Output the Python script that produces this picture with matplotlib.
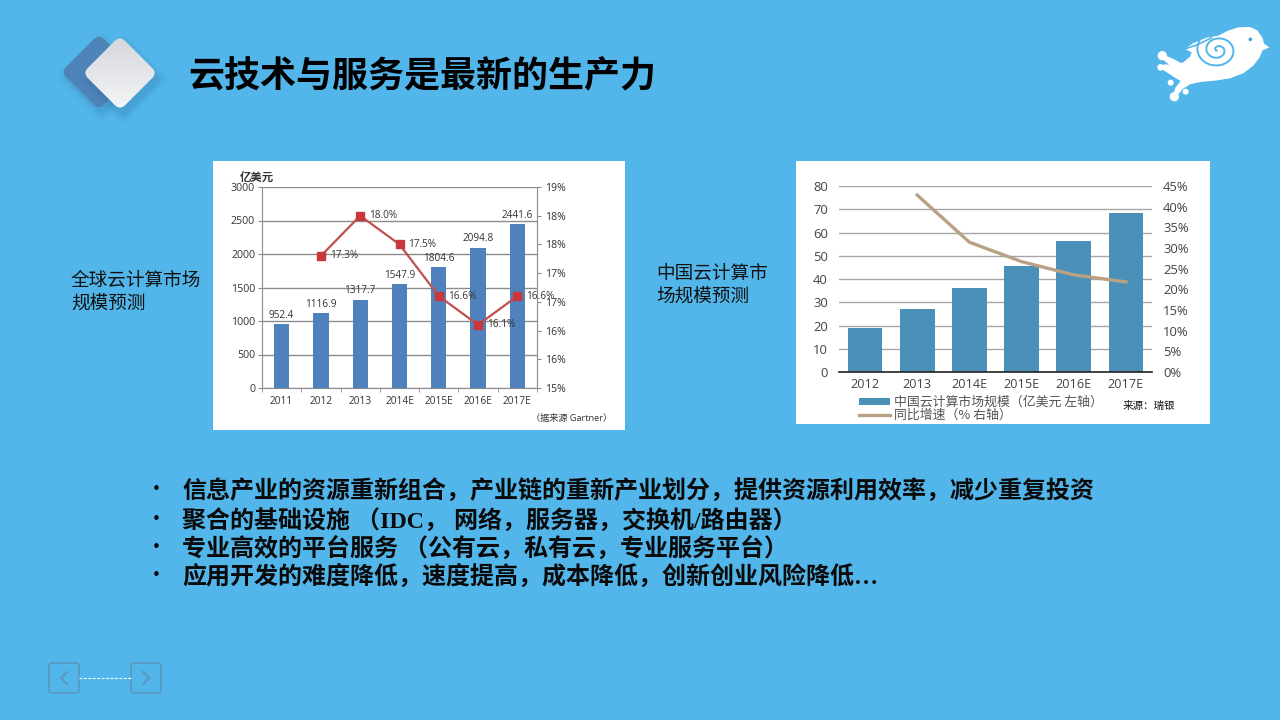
import numpy as np
import matplotlib
matplotlib.use('Agg')
import matplotlib.pyplot as plt
from matplotlib.patches import FancyBboxPatch, Polygon, Circle, Rectangle
from matplotlib.lines import Line2D
from matplotlib.transforms import Affine2D

plt.rcParams['font.family'] = ['Noto Sans CJK SC', 'DejaVu Sans']
CHART_FONT = ['Open Sans', 'Noto Sans CJK SC']
BODY_FONT = ['Liberation Serif', 'Noto Sans CJK SC']

# ---------- data ----------
title = '云技术与服务是最新的生产力'
bullets = ['信息产业的资源重新组合，产业链的重新产业划分，提供资源利用效率，减少重复投资',
           '聚合的基础设施 （IDC， 网络，服务器，交换机/路由器）',
           '专业高效的平台服务 （公有云，私有云，专业服务平台）',
           '应用开发的难度降低，速度提高，成本降低，创新创业风险降低…']
global_years = ['2011', '2012', '2013', '2014E', '2015E', '2016E', '2017E']
global_size = [952.4, 1116.9, 1317.7, 1547.9, 1804.6, 2094.8, 2441.6]
global_growth = [None, 17.3, 18.0, 17.5, 16.6, 16.1, 16.6]
global_left_ticks = [0, 500, 1000, 1500, 2000, 2500, 3000]
global_right_ticks = [15, 15.5, 16, 16.5, 17, 17.5, 18, 18.5]
global_right_labels = ['15%', '16%', '16%', '17%', '17%', '18%', '18%', '19%']
china_years = ['2012', '2013', '2014E', '2015E', '2016E', '2017E']
china_size = [19, 27.3, 36, 45.5, 56.3, 68.5]
china_growth = [None, 42.8, 31.4, 26.7, 23.5, 21.8]
china_left_ticks = [0, 10, 20, 30, 40, 50, 60, 70, 80]
china_right_ticks = [0, 5, 10, 15, 20, 25, 30, 35, 40, 45]

W, H = 1280, 720
BG = '#52B6EA'
fig = plt.figure(figsize=(12.8, 7.2), dpi=100, facecolor=BG)

bgax = fig.add_axes([0, 0, 1, 1], zorder=0)
bgax.set_xlim(0, W); bgax.set_ylim(H, 0); bgax.axis('off')

def axes_px(x0, y0, x1, y1, **kw):
    return fig.add_axes([x0 / W, 1 - y1 / H, (x1 - x0) / W, (y1 - y0) / H], **kw)

def diamond(cx, cy, half, color, z, alpha=1.0, rad=7):
    s = half * np.sqrt(2)
    p = FancyBboxPatch((-s / 2 + rad, -s / 2 + rad), s - 2 * rad, s - 2 * rad,
                       boxstyle=f'round,pad={rad},rounding_size={rad}', fc=color, ec='none',
                       alpha=alpha, zorder=z)
    p.set_transform(Affine2D().rotate_deg(45).translate(cx, cy) + bgax.transData)
    bgax.add_patch(p)
    return p

# header icon
for d, a in [(9, .04), (6, .05), (3, .07), (1, .08)]:
    diamond(102, 77, 38 + d, '#2F6F9F', 1, a)
diamond(99, 72, 38, '#4F84B8', 2)
for d, a in [(9, .05), (6, .06), (3, .08), (1, .10)]:
    diamond(123, 79, 38 + d, '#2F6F9F', 3, a)
clip = diamond(120, 73, 37, '#E2E4E8', 4)
grad = np.linspace(0, 1, 80)[:, None]
cmap = matplotlib.colors.LinearSegmentedColormap.from_list('g', ['#D3D5DA', '#F6F7F8'])
im = bgax.imshow(grad, extent=(80, 160, 112, 34), cmap=cmap, zorder=5, aspect='auto')
im.set_clip_path(clip)
bgax.set_xlim(0, W); bgax.set_ylim(H, 0)

# title and side labels
bgax.text(188.5, 87, title, fontsize=25.9, fontweight='bold', color='black', va='baseline', ha='left')
for t, x, y in [('全球云计算市场', 71, 286), ('规模预测', 71, 309), ('中国云计算市', 656, 279), ('场规模预测', 656, 302)]:
    bgax.text(x, y, t, fontsize=13.4, color='#111111', va='baseline', ha='left')

# bird logo (points taken in a 3x crop whose origin is 1140,15)
def bp(pts):
    return [(1140 + x / 3, 15 + y / 3) for x, y in pts]
body = [(388, 97), (368, 106), (358, 128), (340, 152), (310, 175), (270, 190), (225, 197), (180, 201),
        (150, 208), (128, 222), (113, 240), (100, 240), (106, 218), (122, 198), (105, 188), (85, 175),
        (62, 160), (72, 148), (100, 150), (130, 142), (150, 125), (155, 112), (135, 102),
        (160, 84), (200, 68), (235, 62), (262, 48), (295, 37), (330, 36), (352, 46), (368, 70), (372, 86)]
bgax.add_patch(Polygon(bp(body), closed=True, fc='white', ec='none', zorder=3))
tail = [(67, 118), (92, 128), (125, 145), (130, 158), (90, 152), (65, 130)]
bgax.add_patch(Polygon(bp(tail), closed=True, fc='white', ec='none', zorder=3))
for x, y, r in [(67, 122, 14), (62, 157, 10), (92, 203, 9), (137, 230, 9), (103, 245, 14)]:
    bgax.add_patch(Circle((1140 + x / 3, 15 + y / 3), r / 3, fc='white', ec='none', zorder=3))
theta = np.linspace(0, 4.4 * np.pi, 120)
rad_s = np.linspace(3, 60, 120)
sx = 233 + rad_s * np.cos(theta + 2.4) * 1.05
sy = 105 + rad_s * np.sin(theta + 2.4) * 0.9
bgax.plot(*zip(*bp(list(zip(sx, sy)))), color=BG, lw=1.4, zorder=4)
bgax.plot(*zip(*bp([(135, 102), (175, 88), (215, 68)])), color=BG, lw=1.2, zorder=4)
bgax.add_patch(Circle((1140 + 331 / 3, 15 + 73 / 3), 1.8, fc='#3FA0D0', ec='none', zorder=4))

# chart backgrounds
bgax.add_patch(Rectangle((213, 161), 412, 269, fc='white', ec='none', zorder=1))
bgax.add_patch(Rectangle((796, 161), 414, 263, fc='white', ec='none', zorder=1))

def set_font(ax):
    for t in ax.get_xticklabels() + ax.get_yticklabels():
        t.set_fontfamily(CHART_FONT)

# ---------- global chart ----------
ax1 = axes_px(262, 187, 537, 388, zorder=2, facecolor='none')
x1 = np.arange(len(global_years))
ax1.bar(x1, global_size, width=0.39, color='#4F81BD', zorder=3)
ax1.set_xlim(-0.5, 6.5); ax1.set_ylim(0, 3000)
ax1.set_yticks(global_left_ticks)
ax1.set_xticks(x1, global_years)
ax1.set_xticks(np.arange(-0.5, 7, 1), minor=True)
ax1.grid(axis='y', color='#8C8C8C', lw=1, zorder=1)
ax1.tick_params(axis='x', which='major', length=0, labelsize=7.3, labelcolor='#333333', pad=6)
ax1.tick_params(axis='x', which='minor', length=3, color='#8C8C8C')
ax1.tick_params(axis='y', length=3, color='#8C8C8C', labelsize=7.7, labelcolor='#333333', pad=2)
set_font(ax1)
for s in ['top', 'right']:
    ax1.spines[s].set_visible(False)
for s in ['left', 'bottom']:
    ax1.spines[s].set_color('#8C8C8C')
for xi, v in zip(x1, global_size):
    ax1.annotate(f'{v:.1f}', (xi, v), xytext=(0, 2.5), textcoords='offset points', ha='center', va='bottom',
                 fontsize=7.2, color='#333333', zorder=6, family=CHART_FONT)
ax1r = ax1.twinx()
ax1r.set_zorder(3); ax1r.patch.set_visible(False)
ax1r.set_ylim(15, 18.5)
ax1r.set_yticks(global_right_ticks, global_right_labels)
ax1r.tick_params(axis='y', length=3, color='#8C8C8C', labelsize=7.6, labelcolor='#333333', pad=3)
set_font(ax1r)
for s in ['top', 'left', 'bottom']:
    ax1r.spines[s].set_visible(False)
ax1r.spines['right'].set_color('#8C8C8C')
gx = [x for x, v in zip(x1, global_growth) if v is not None]
gy = [v for v in global_growth if v is not None]
ax1r.plot(gx, gy, color='#C0504D', lw=1.6, marker='s', ms=5.5, mfc='#C8383A', mec='#C8383A', clip_on=False)
for xi, v in zip(gx, gy):
    ax1r.annotate(f'{v:.1f}%', (xi, v), xytext=(6.5, 0), textcoords='offset points', ha='left', va='center',
                  fontsize=7.2, color='#333333', annotation_clip=False, family=CHART_FONT)
bgax.text(257, 178, '亿美元', fontsize=8.2, fontweight='bold', color='#333333', ha='center', va='center')
bgax.text(612, 419, '（据来源 Gartner）', fontsize=6.6, color='#333333', ha='right', va='center', family=CHART_FONT)

# ---------- china chart ----------
ax2 = axes_px(839, 186, 1152, 372, zorder=2, facecolor='none')
x2 = np.arange(len(china_years))
ax2.bar(x2, china_size, width=0.665, color='#4A90B8', zorder=3)
ax2.set_xlim(-0.5, 5.5); ax2.set_ylim(0, 80)
ax2.set_yticks(china_left_ticks)
ax2.set_xticks(x2, china_years)
ax2.grid(axis='y', color='#A6A6A6', lw=1, zorder=1)
ax2.tick_params(axis='x', length=0, labelsize=9.1, labelcolor='#444444', pad=4)
ax2.tick_params(axis='y', length=0, labelsize=9.4, labelcolor='#444444', pad=8)
set_font(ax2)
for s in ['top', 'right', 'left']:
    ax2.spines[s].set_visible(False)
ax2.spines['bottom'].set_color('#222222'); ax2.spines['bottom'].set_linewidth(1.2)
ax2.spines['bottom'].set_zorder(5)
ax2r = ax2.twinx()
ax2r.set_zorder(3); ax2r.patch.set_visible(False)
ax2r.set_ylim(0, 45)
ax2r.set_yticks(china_right_ticks, [f'{v}%' for v in china_right_ticks])
ax2r.tick_params(axis='y', length=0, labelsize=9.4, labelcolor='#444444', pad=8)
set_font(ax2r)
for s in ax2r.spines.values():
    s.set_visible(False)
cx = [x for x, v in zip(x2, china_growth) if v is not None]
cy = [v for v in china_growth if v is not None]
ax2r.plot(cx, cy, color='#B9A184', lw=2.4)
leg = ax2.legend(handles=[Rectangle((0, 0), 1, 1, fc='#4A90B8'),
                          Line2D([], [], color='#B9A184', lw=2.4)],
                 labels=['中国云计算市场规模（亿美元 左轴）', '同比增速（% 右轴）'],
                 loc='upper left', bbox_to_anchor=((859 - 839) / 313, (372 - 396) / 186),
                 frameon=False, fontsize=9.3, handlelength=2.4, handleheight=0.5, handletextpad=0.3,
                 labelspacing=0.0, borderpad=0, borderaxespad=0)
for t in leg.get_texts():
    t.set_color('#555555')
bgax.text(1149, 406, '来源：瑞银', fontsize=7.6, color='#111111', ha='center', va='center')

# bullets
for t, y in zip(bullets, [498, 528, 556, 584]):
    bgax.text(156, y - 4, '•', fontsize=11, color='black', ha='center', va='baseline', family='DejaVu Sans')
    bgax.text(182, y, t, fontsize=17.3, fontweight='bold', color='#0A0A0A', ha='left', va='baseline', family=BODY_FONT)

# navigation buttons
navc = '#5B97BF'
for x0, pts in [(49, [(67, 672), (61, 678), (67, 684)]), (131, [(143, 672), (149, 678), (143, 684)])]:
    bgax.add_patch(FancyBboxPatch((x0 + 3, 666), 24, 24, boxstyle='round,pad=3,rounding_size=3',
                                  fc='none', ec=navc, lw=1.2, zorder=2))
    bgax.plot(*zip(*pts), color=navc, lw=1.5, zorder=2)
bgax.plot([79, 131], [678, 678], color='white', lw=0.8, ls=(0, (2.5, 1.5)), zorder=2)

fig.savefig('out.png', dpi=100, facecolor=BG)
